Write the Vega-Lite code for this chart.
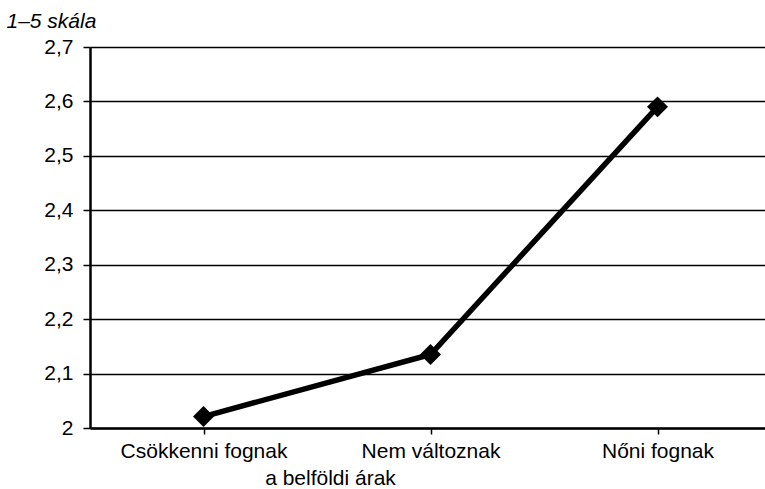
{
  "$schema": "https://vega.github.io/schema/vega-lite/v6.json",
  "autosize": {"type": "none"},
  "padding": {"left": 90, "top": 47, "right": 0, "bottom": 61},
  "width": 681,
  "height": 381,
  "background": "white",
  "config": {
    "view": {"stroke": null},
    "font": "Liberation Sans",
    "axis": {"labelFont": "Liberation Sans", "titleFont": "Liberation Sans", "labelColor": "black", "titleColor": "black"}
  },
  "data": {
    "values": [
      {"kategoria": "Csökkenni fognak", "ertek": 2.021},
      {"kategoria": "Nem változnak", "ertek": 2.135},
      {"kategoria": "Nőni fognak", "ertek": 2.59}
    ]
  },
  "encoding": {
    "x": {
      "field": "kategoria",
      "type": "nominal",
      "sort": null,
      "scale": {"paddingInner": 0, "paddingOuter": 0},
      "axis": {
        "title": "a belföldi árak",
        "titleFontSize": 21,
        "titleFontWeight": "normal",
        "titleX": 240,
        "titleY": 56,
        "titleAlign": "center",
        "titleBaseline": "alphabetic",
        "labelAngle": 0,
        "labelFontSize": 21,
        "labelPadding": 6,
        "tickSize": 6,
        "tickWidth": 1.5,
        "tickColor": "black",
        "bandPosition": 0,
        "domainColor": "black",
        "domainWidth": 2.5,
        "grid": false
      }
    },
    "y": {
      "field": "ertek",
      "type": "quantitative",
      "scale": {"domain": [2, 2.7], "nice": false, "zero": false},
      "axis": {
        "values": [2, 2.1, 2.2, 2.3, 2.4, 2.5, 2.6, 2.7],
        "labelExpr": "replace(format(datum.value, '.1~f'), '.', ',')",
        "labelFontSize": 21,
        "labelPadding": 10,
        "tickSize": 7,
        "tickWidth": 1.5,
        "tickColor": "black",
        "domainColor": "black",
        "domainWidth": 2.5,
        "grid": true,
        "gridColor": "black",
        "gridWidth": 1.5,
        "gridOpacity": 1,
        "title": "1–5 skála",
        "titleAngle": 0,
        "titleFontSize": 21,
        "titleFontStyle": "italic",
        "titleFontWeight": "normal",
        "titleAlign": "left",
        "titleBaseline": "alphabetic",
        "titleX": -84,
        "titleY": -20
      }
    }
  },
  "layer": [
    {"mark": {"type": "line", "color": "black", "strokeWidth": 5.5}},
    {"mark": {"type": "point", "shape": "diamond", "filled": true, "color": "black", "opacity": 1, "size": 440}}
  ]
}
